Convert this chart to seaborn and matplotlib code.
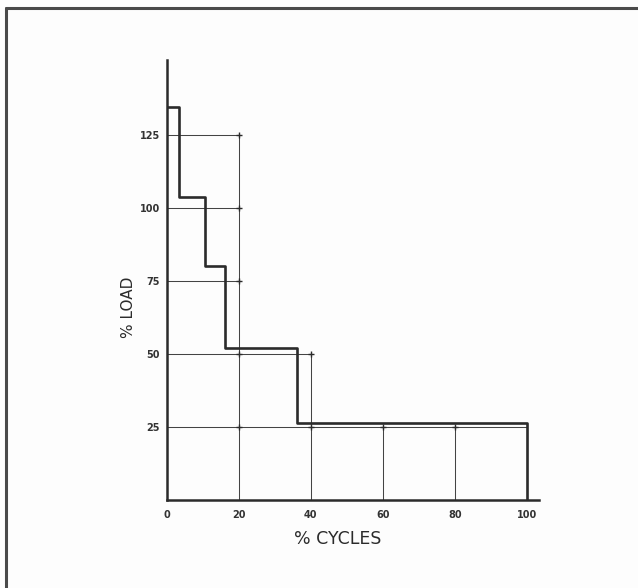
import matplotlib
matplotlib.use("Agg")
import matplotlib.pyplot as plt
from matplotlib.lines import Line2D
import seaborn as sns
import pandas as pd

# ---- data ----
cycles = [0, 3.5, 10.5, 16.3, 36.1, 100]          # % cycles where each load step begins / ends
load = [134.5, 103.8, 80.0, 52.0, 26.3, 0.0]      # % load for each step
ref_levels = [125, 100, 75, 50, 25]                # horizontal reference lines
ref_level_extent = [20, 20, 20, 40, 100]           # how far (in % cycles) each reference line runs
ref_cols = [20, 40, 60, 80]                        # vertical reference lines
ref_col_extent = [125, 50, 25, 25]                 # how high each vertical reference line runs
x_ticks = [0, 20, 40, 60, 80, 100]
y_ticks = [25, 50, 75, 100, 125]

sns.set_theme(style="white")
plt.rcParams["font.family"] = ["DejaVu Sans"]

ink = "#2b2b2b"
fig = plt.figure(figsize=(6.38, 5.88), dpi=100)
fig.patch.set_facecolor("#fdfdfd")
ax = fig.add_axes([0.2613, 0.1497, 0.5835, 0.7483])
ax.set_facecolor("#fdfdfd")

# reference grid segments
for lvl, ext in zip(ref_levels, ref_level_extent):
    ax.plot([0, ext], [lvl, lvl], color="#444444", lw=0.75, zorder=1)
for col, ext in zip(ref_cols, ref_col_extent):
    ax.plot([col, col], [0, ext], color="#444444", lw=0.75, zorder=1)
# small cross marks at intersections
pts = []
for lvl, ext in zip(ref_levels, ref_level_extent):
    for col in [c for c in ref_cols if c <= ext]:
        pts.append((col, lvl))
ax.scatter([p[0] for p in pts], [p[1] for p in pts], marker="+", s=22,
           color=ink, linewidths=1.0, zorder=2)

# the load spectrum
df = pd.DataFrame({"cycles": cycles, "load": load})
sns.lineplot(data=df, x="cycles", y="load", drawstyle="steps-post",
             estimator=None, sort=False, color=ink, lw=1.9, ax=ax, zorder=3)

ax.set_xlim(0, 103.4)
ax.set_ylim(0, 150.7)
for s in ["top", "right"]:
    ax.spines[s].set_visible(False)
for s in ["left", "bottom"]:
    ax.spines[s].set_color(ink)
    ax.spines[s].set_linewidth(1.8)

ax.set_xticks(x_ticks)
ax.set_yticks(y_ticks)
ax.set_xticklabels([str(v) for v in x_ticks], fontsize=7, fontweight="bold", color="#333333")
ax.set_yticklabels([str(v) for v in y_ticks], fontsize=7, fontweight="bold", color="#333333")
ax.tick_params(axis="both", direction="inout", length=6, width=1.2, color=ink)
ax.tick_params(axis="x", pad=4)
ax.tick_params(axis="y", pad=2)

ax.set_xlabel("% CYCLES", fontsize=12.5, color="#2b2b2b")
ax.set_ylabel("% LOAD", fontsize=11, color="#2b2b2b")
ax.xaxis.set_label_coords(0.459, -0.068)
ax.yaxis.set_label_coords(-0.082, 0.439)

# scanned page frame (top and left edges visible)
fig.add_artist(Line2D([6 / 638, 6 / 638], [0, 1 - 8 / 588], transform=fig.transFigure,
                      color="#4a4a4a", lw=2.2))
fig.add_artist(Line2D([6 / 638, 1], [1 - 8 / 588, 1 - 8 / 588], transform=fig.transFigure,
                      color="#4a4a4a", lw=2.2))

fig.savefig("out.png", dpi=100, facecolor=fig.get_facecolor())
